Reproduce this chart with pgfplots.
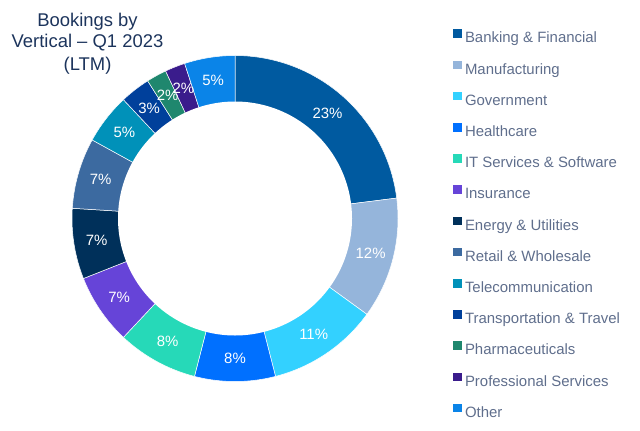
\documentclass[border=0pt]{standalone}
\usepackage{fontspec}
\setmainfont{Liberation Sans}
\usepackage{pgfplots}
\usepackage{pgfplotstable}
\pgfplotsset{compat=1.18}
\definecolor{c0}{RGB}{0,90,160}
\definecolor{c1}{RGB}{149,181,219}
\definecolor{c2}{RGB}{51,209,255}
\definecolor{c3}{RGB}{0,112,255}
\definecolor{c4}{RGB}{38,217,184}
\definecolor{c5}{RGB}{102,68,216}
\definecolor{c6}{RGB}{0,48,90}
\definecolor{c7}{RGB}{60,106,160}
\definecolor{c8}{RGB}{0,145,185}
\definecolor{c9}{RGB}{0,64,155}
\definecolor{c10}{RGB}{31,135,110}
\definecolor{c11}{RGB}{58,28,140}
\definecolor{c12}{RGB}{10,132,232}
\definecolor{titlecol}{RGB}{28,52,92}
\definecolor{legendtext}{RGB}{95,110,140}
\pgfplotstableread{
idx value
0 23
1 12
2 11
3 8
4 8
5 7
6 7
7 7
8 5
9 3
10 2
11 2
12 5
}\data
\newcommand\lblfont{\fontsize{15}{18}\selectfont}
\newcommand\titlefont{\fontsize{18.5}{22}\selectfont}
\begin{document}
\begin{tikzpicture}
\begin{axis}[scale only axis, width=640bp, height=430bp,
  xmin=-235, xmax=405, ymin=-211.5, ymax=218.5,
  hide axis, clip=false,
  legend style={at={(axis cs:218,189.1)}, anchor=north west, draw=none, fill=none,
    inner sep=0pt, outer sep=0pt, row sep=14.7bp, column sep=3.5bp,
    font=\fontsize{15}{18}\selectfont, text=legendtext,
    nodes={inner sep=0pt, text height=11bp, text depth=3bp}},
  legend cell align=left,
  legend image code/.code={\fill[#1, draw=none] (0bp,1bp) rectangle (8.5bp,9.5bp);}]
\path (rel axis cs:0,0) rectangle (rel axis cs:1,1);
\def\cum{0}
\pgfplotsforeachungrouped \i in {0,...,12}{%
  \pgfplotstablegetelem{\i}{value}\of\data
  \let\val\pgfplotsretval
  \pgfmathsetmacro\s{90-3.6*\cum}%
  \pgfmathsetmacro\e{\s-3.6*\val}%
  \pgfmathsetmacro\cum{\cum+\val}%
  \edef\cmd{\noexpand\addplot[fill=c\i, draw=white, line width=0.5bp, domain=\e:\s, samples=60] ({163*cos(x)},{163*sin(x)}) -- (0,0) -- cycle;}%
  \cmd
}
\addplot[fill=white, draw=none, domain=0:360, samples=181, forget plot] ({117*cos(x)},{117*sin(x)}) -- cycle;
\def\cum{0}
\pgfplotsforeachungrouped \i in {0,...,12}{%
  \pgfplotstablegetelem{\i}{value}\of\data
  \let\val\pgfplotsretval
  \pgfmathsetmacro\m{90-3.6*\cum-1.8*\val}%
  \pgfmathsetmacro\lx{140*cos(\m)}%
  \pgfmathsetmacro\ly{140*sin(\m)}%
  \pgfmathsetmacro\cum{\cum+\val}%
  \edef\cmd{\noexpand\node[text=white, font=\noexpand\lblfont, inner sep=0pt] at (\lx,\ly) {\val\noexpand\%};}%
  \cmd
}
\node[anchor=base, text=titlecol, font=\titlefont, inner sep=0pt] at (-147.5,191.8) {Bookings by};
\node[anchor=base, text=titlecol, font=\titlefont, inner sep=0pt] at (-147.5,170.8) {Vertical – Q1 2023};
\node[anchor=base, text=titlecol, font=\titlefont, inner sep=0pt] at (-147.5,147.8) {(LTM)};
\legend{Banking \& Financial, Manufacturing, Government, Healthcare, IT Services \& Software, Insurance, Energy \& Utilities, Retail \& Wholesale, Telecommunication, Transportation \& Travel, Pharmaceuticals, Professional Services, Other}
\end{axis}
\end{tikzpicture}
\end{document}
